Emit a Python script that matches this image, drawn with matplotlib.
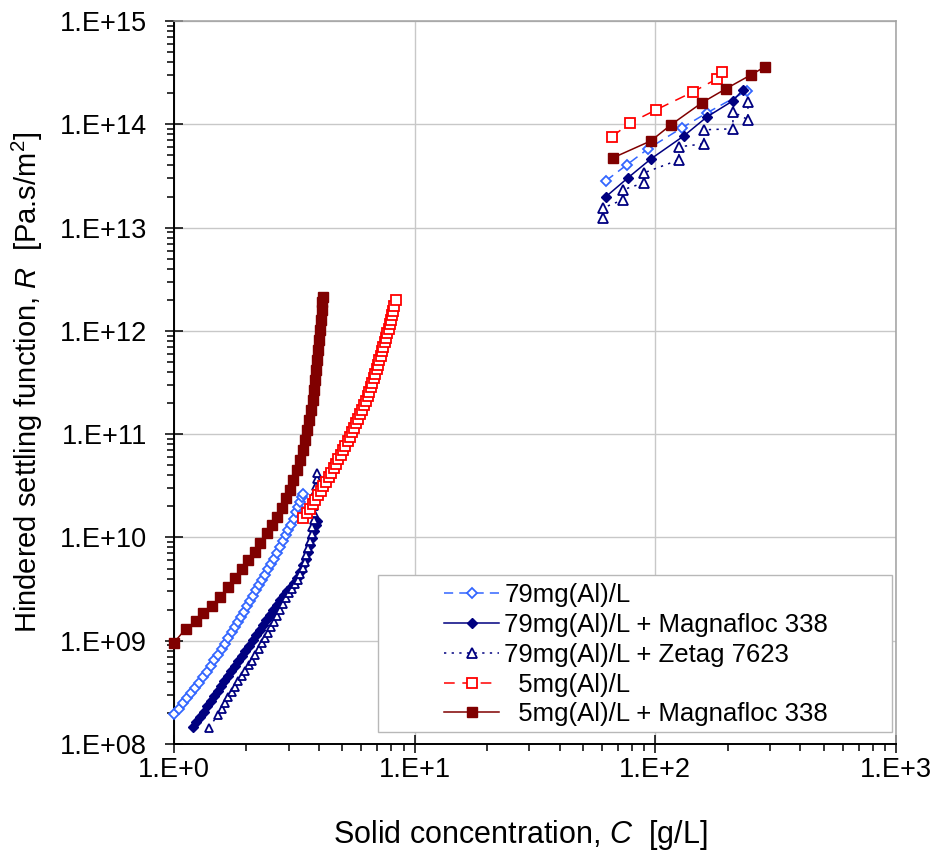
import matplotlib
matplotlib.use('Agg')
import matplotlib.pyplot as plt
from matplotlib.patches import Rectangle
from matplotlib.ticker import LogLocator, FuncFormatter, NullFormatter
import numpy as np

plt.rcParams['font.family'] = ['Liberation Sans', 'DejaVu Sans']
plt.rcParams['mathtext.fontset'] = 'custom'
plt.rcParams['mathtext.rm'] = 'Liberation Sans'
plt.rcParams['mathtext.it'] = 'Liberation Sans:italic'

# 79mg(Al)/L, low concentration range
c79_low = [1.00, 1.05, 1.09, 1.13, 1.18, 1.22, 1.27, 1.32, 1.37, 1.42, 1.47, 1.52, 1.58, 1.63,
           1.68, 1.74, 1.79, 1.84, 1.90, 1.95, 2.01, 2.07, 2.13, 2.19, 2.26, 2.32, 2.39, 2.46,
           2.53, 2.60, 2.68, 2.76, 2.84, 2.92, 2.99, 3.06, 3.14, 3.21, 3.27, 3.34, 3.40, 3.43]
R79_low = [1.97e8, 2.20e8, 2.47e8, 2.77e8, 3.10e8, 3.49e8, 3.94e8, 4.45e8, 5.01e8, 5.69e8,
           6.45e8, 7.30e8, 8.27e8, 9.35e8, 1.06e9, 1.21e9, 1.36e9, 1.52e9, 1.70e9, 1.91e9,
           2.15e9, 2.42e9, 2.72e9, 3.07e9, 3.45e9, 3.88e9, 4.37e9, 4.93e9, 5.53e9, 6.23e9,
           7.01e9, 8.02e9, 9.17e9, 1.05e10, 1.17e10, 1.33e10, 1.52e10, 1.75e10, 1.96e10,
           2.19e10, 2.46e10, 2.62e10]
c79_high = [62.3, 76.2, 93.2, 129.0, 163.8, 240.3]
R79_high = [2.84e13, 4.06e13, 5.79e13, 9.25e13, 1.29e14, 2.11e14]

# 79mg(Al)/L + Magnafloc 338
c79m_low = [1.20, 1.24, 1.28, 1.33, 1.37, 1.42, 1.47, 1.52, 1.57, 1.62, 1.68, 1.73, 1.79, 1.85,
            1.92, 1.98, 2.05, 2.12, 2.19, 2.27, 2.34, 2.42, 2.51, 2.59, 2.68, 2.77, 2.86, 2.96,
            3.06, 3.15, 3.24, 3.34, 3.44, 3.52, 3.60, 3.67, 3.74, 3.82, 3.89, 3.93]
R79m_low = [1.47e8, 1.65e8, 1.84e8, 2.06e8, 2.31e8, 2.59e8, 2.90e8, 3.24e8, 3.63e8, 4.07e8,
            4.55e8, 5.10e8, 5.71e8, 6.40e8, 7.16e8, 8.02e8, 8.98e8, 1.01e9, 1.13e9, 1.26e9,
            1.41e9, 1.58e9, 1.77e9, 1.98e9, 2.22e9, 2.49e9, 2.78e9, 3.05e9, 3.33e9, 3.64e9,
            4.07e9, 4.66e9, 5.44e9, 6.22e9, 7.27e9, 8.50e9, 9.93e9, 1.16e10, 1.33e10, 1.45e10]
c79m_high = [62.3, 76.9, 95.9, 131.5, 163.8, 210.1, 231.2]
R79m_high = [1.99e13, 3.03e13, 4.63e13, 7.74e13, 1.18e14, 1.69e14, 2.16e14]

# 79mg(Al)/L + Zetag 7623
c79z_low = [1.40, 1.52, 1.58, 1.63, 1.68, 1.74, 1.79, 1.85, 1.92, 1.98, 2.05, 2.11, 2.18, 2.26,
            2.32, 2.39, 2.46, 2.53, 2.60, 2.68, 2.76, 2.84, 2.92, 3.01, 3.09, 3.18, 3.28, 3.35,
            3.42, 3.49, 3.55, 3.62, 3.67, 3.73, 3.76, 3.80, 3.82, 3.83, 3.85, 3.87, 3.89, 3.91, 3.93]
R79z_low = [1.44e8, 1.92e8, 2.20e8, 2.51e8, 2.87e8, 3.21e8, 3.59e8, 4.05e8, 4.58e8, 5.12e8,
            5.79e8, 6.40e8, 7.32e8, 8.37e8, 9.56e8, 1.07e9, 1.20e9, 1.35e9, 1.53e9, 1.75e9,
            2.00e9, 2.28e9, 2.61e9, 2.92e9, 3.19e9, 3.56e9, 3.89e9, 4.45e9, 5.09e9, 5.82e9,
            6.80e9, 7.95e9, 9.29e9, 1.09e10, 1.27e10, 1.48e10, 1.73e10, 2.03e10, 2.37e10,
            2.77e10, 3.17e10, 3.70e10, 4.23e10]
c79z_high = [60.6, 60.6, 73.3, 73.3, 89.7, 89.7, 125.3, 125.3, 159.2, 159.2, 210.1, 210.1, 242.5, 242.5]
R79z_high = [1.24e13, 1.55e13, 1.86e13, 2.32e13, 2.72e13, 3.39e13, 4.53e13, 6.06e13,
             6.47e13, 8.85e13, 9.05e13, 1.32e14, 1.11e14, 1.65e14]

# 5mg(Al)/L
c5_low = [3.45, 3.57, 3.69, 3.77, 3.86, 3.95, 4.07, 4.18, 4.28, 4.39, 4.49, 4.60, 4.71, 4.82,
          4.93, 5.04, 5.15, 5.27, 5.39, 5.50, 5.61, 5.73, 5.84, 5.95, 6.06, 6.17, 6.28, 6.38,
          6.48, 6.57, 6.67, 6.76, 6.86, 6.96, 7.06, 7.14, 7.23, 7.32, 7.41, 7.50, 7.59, 7.69,
          7.79, 7.87, 7.96, 8.05, 8.13, 8.22, 8.36]
R5_low = [1.55e10, 1.72e10, 1.90e10, 2.10e10, 2.32e10, 2.56e10, 2.83e10, 3.13e10, 3.46e10,
          3.83e10, 4.23e10, 4.68e10, 5.17e10, 5.71e10, 6.32e10, 6.98e10, 7.72e10, 8.54e10,
          9.44e10, 1.04e11, 1.15e11, 1.28e11, 1.41e11, 1.56e11, 1.72e11, 1.91e11, 2.11e11,
          2.33e11, 2.57e11, 2.84e11, 3.15e11, 3.48e11, 3.84e11, 4.25e11, 4.70e11, 5.19e11,
          5.74e11, 6.35e11, 7.02e11, 7.76e11, 8.58e11, 9.48e11, 1.05e12, 1.16e12, 1.28e12,
          1.42e12, 1.57e12, 1.73e12, 2.00e12]
c5_high = [66.0, 78.4, 100.6, 143.3, 180.3, 189.1]
R5_high = [7.57e13, 1.03e14, 1.38e14, 2.06e14, 2.76e14, 3.22e14]

# 5mg(Al)/L + Magnafloc 338
c5m_low = [1.00, 1.12, 1.23, 1.32, 1.44, 1.55, 1.68, 1.79, 1.92, 2.03, 2.17, 2.28, 2.43, 2.55,
           2.68, 2.81, 2.92, 3.03, 3.12, 3.24, 3.34, 3.44, 3.50, 3.57, 3.64, 3.71, 3.78, 3.82,
           3.85, 3.89, 3.93, 3.97, 4.00, 4.04, 4.08, 4.12, 4.13, 4.16]
R5m_low = [9.6e8, 1.31e9, 1.54e9, 1.84e9, 2.19e9, 2.68e9, 3.28e9, 4.01e9, 4.91e9, 6.00e9,
           7.17e9, 8.77e9, 1.10e10, 1.31e10, 1.57e10, 1.92e10, 2.39e10, 2.86e10, 3.58e10,
           4.48e10, 5.60e10, 7.00e10, 8.75e10, 1.09e11, 1.37e11, 1.71e11, 2.14e11, 2.67e11,
           3.34e11, 4.18e11, 5.22e11, 6.53e11, 8.17e11, 1.02e12, 1.28e12, 1.60e12, 1.91e12, 2.13e12]
c5m_high = [66.7, 95.9, 116.1, 156.2, 196.5, 249.6, 285.3]
R5m_high = [4.74e13, 6.92e13, 9.89e13, 1.62e14, 2.21e14, 3.01e14, 3.60e14]

labels = ['79mg(Al)/L', '79mg(Al)/L + Magnafloc 338', '79mg(Al)/L + Zetag 7623',
          '  5mg(Al)/L', '  5mg(Al)/L + Magnafloc 338']

fig = plt.figure(figsize=(9.4, 8.55), dpi=100)
ax = fig.add_axes([0.1851, 0.1298, 0.7681, 0.8456])
ax.set_xscale('log')
ax.set_yscale('log')

lw = 1.1
styles = [
    dict(color='#3366FF', ls=(0, (6, 4)), marker='D', mfc='white', mec='#3366FF', mew=1.3),
    dict(color='#000080', ls='-', marker='D', mfc='#000080', mec='#000080', mew=1.0),
    dict(color='#000080', ls=(0, (1.5, 3.5)), marker='^', mfc='white', mec='#000080', mew=1.3),
    dict(color='#FF0000', ls=(0, (7, 5)), marker='s', mfc='white', mec='#FF0000', mew=1.3),
    dict(color='#800000', ls='-', marker='s', mfc='#800000', mec='#800000', mew=1.0),
]
low = [(c79_low, R79_low), (c79m_low, R79m_low), (c79z_low, R79z_low), (c5_low, R5_low), (c5m_low, R5m_low)]
high = [(c79_high, R79_high), (c79m_high, R79m_high), (c79z_high, R79z_high),
        (c5_high, R5_high), (c5m_high, R5m_high)]
ms_low = [4.9, 4.9, 6.4, 6.8, 7.8]
ms_high = [4.8, 4.8, 7.0, 7.0, 7.2]

handles = []
for st, (xl, yl), (xh, yh), ml, mh in zip(styles, low, high, ms_low, ms_high):
    ax.plot(xl, yl, lw=lw, ms=ml, zorder=3, clip_on=False, **st)
    h, = ax.plot(xh, yh, lw=lw, ms=mh, zorder=3, **st)
    handles.append(h)

ax.set_xlim(1, 1000)
ax.set_ylim(1e8, 1e15)

ax.xaxis.set_major_locator(LogLocator(base=10, numticks=10))
ax.yaxis.set_major_locator(LogLocator(base=10, numticks=10))
ax.xaxis.set_minor_locator(LogLocator(base=10, subs=np.arange(2, 10), numticks=20))
ax.yaxis.set_minor_locator(LogLocator(base=10, subs=np.arange(2, 10), numticks=20))
ax.xaxis.set_minor_formatter(NullFormatter())
ax.yaxis.set_minor_formatter(NullFormatter())
ax.xaxis.set_major_formatter(FuncFormatter(lambda v, p: '1.E+%d' % round(np.log10(v))))
ax.yaxis.set_major_formatter(FuncFormatter(lambda v, p: '1.E+%02d' % round(np.log10(v))))

ax.tick_params(which='major', direction='inout', length=13, width=1.1, labelsize=19.5, colors='black')
ax.tick_params(axis='y', which='major', pad=13)
ax.tick_params(axis='x', which='major', pad=3)
ax.tick_params(which='minor', direction='out', length=5, width=1.1)

ax.grid(True, which='major', color='#c8c8c8', lw=1.0, zorder=0)
ax.set_axisbelow(True)
for s in ['left', 'bottom']:
    ax.spines[s].set_color('black')
    ax.spines[s].set_linewidth(1.4)
for s in ['top', 'right']:
    ax.spines[s].set_color('#a0a0a0')
    ax.spines[s].set_linewidth(1.1)

ax.set_xlabel(r'Solid concentration, $\it{C}$  [g/L]', fontsize=22)
ax.set_ylabel(r'Hindered settling function, $\it{R}$  [Pa.s/m$^{2}$]', fontsize=21)
ax.xaxis.set_label_coords(0.48, -0.103)
ax.yaxis.set_label_coords(-0.179, 0.5)

# legend box
ax.add_patch(Rectangle((0.2825, 0.017), 0.712, 0.217, transform=ax.transAxes,
                       facecolor='white', edgecolor='#b8b8b8', lw=1.0, zorder=5))
leg = ax.legend(handles, labels, loc='upper left', bbox_to_anchor=(0.374, 0.223),
                frameon=False, fontsize=18.5, borderpad=0, handlelength=2.15,
                handletextpad=0.2, labelspacing=0.23, borderaxespad=0)
leg.set_zorder(6)

fig.savefig('out.png', dpi=100)
